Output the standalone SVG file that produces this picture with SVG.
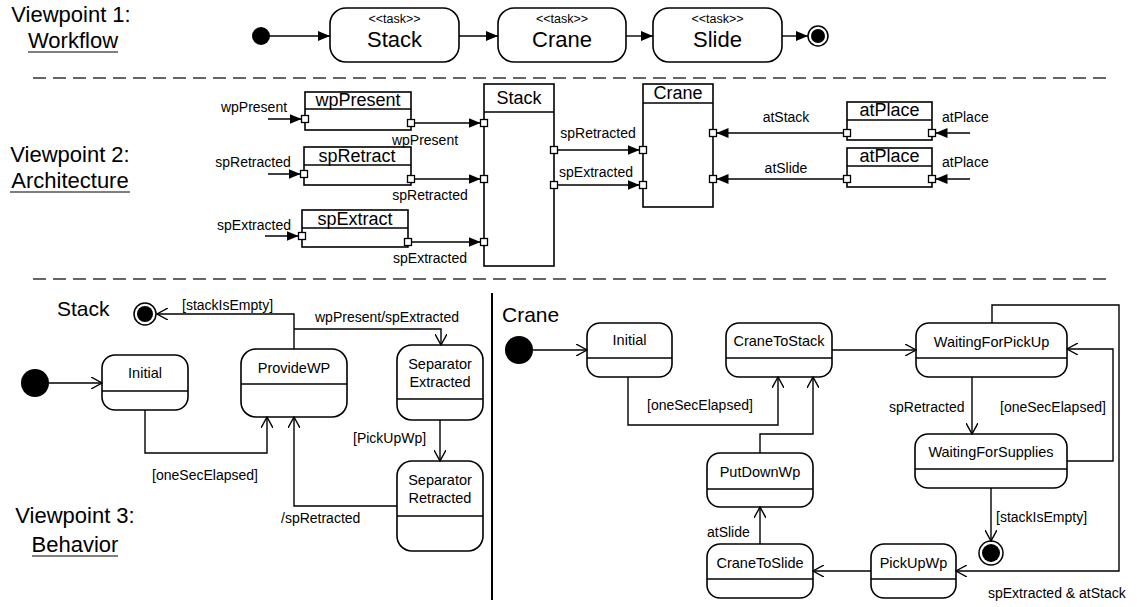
<svg xmlns="http://www.w3.org/2000/svg" width="1137" height="607" viewBox="0 0 1137 607">
<style>
text{font-family:"Liberation Sans",Arial,sans-serif;fill:#000}
.vp{font-size:22px;text-anchor:middle}
.st{font-size:14.5px;text-anchor:middle}
.lbl{font-size:14px}
.lc{font-size:14px;text-anchor:middle}
.hd{font-size:18px;text-anchor:middle}
.ster{font-size:12.5px;text-anchor:middle}
.tk{font-size:22px;text-anchor:middle}
.box{fill:#fff;stroke:#000;stroke-width:1.6}
.ln{fill:none;stroke:#000;stroke-width:1.4}
.port{fill:#fff;stroke:#000;stroke-width:1.3}
.dash{stroke:#333;stroke-width:1.5;stroke-dasharray:13 7}
.fa{fill:none;stroke:#000;stroke-width:1.4;marker-end:url(#fa)}
.oa{fill:none;stroke:#000;stroke-width:1.4;marker-end:url(#oa)}
</style>
<defs>
<marker id="fa" viewBox="0 0 12 10" refX="12" refY="5" markerWidth="12" markerHeight="10" markerUnits="userSpaceOnUse" orient="auto"><path d="M0,0 L12,5 L0,10 z" fill="#000"/></marker>
<marker id="oa" viewBox="0 0 12 12" refX="11" refY="6" markerWidth="12" markerHeight="12" markerUnits="userSpaceOnUse" orient="auto"><path d="M0,0 L11,6 L0,12" fill="none" stroke="#000" stroke-width="1.4"/></marker>
</defs>
<rect width="1137" height="607" fill="#fff"/>

<g id="viewpoint-labels">
<text class="vp" x="71" y="22">Viewpoint 1:</text>
<text class="vp" x="73" y="48">Workflow</text>
<line x1="28" y1="52" x2="118" y2="52" stroke="#000" stroke-width="1.2"/>
<text class="vp" x="70" y="162">Viewpoint 2:</text>
<text class="vp" x="70" y="188">Architecture</text>
<line x1="10" y1="192" x2="130" y2="192" stroke="#000" stroke-width="1.2"/>
<text class="vp" x="75" y="523">Viewpoint 3:</text>
<text class="vp" x="75" y="552">Behavior</text>
<line x1="32" y1="556" x2="118" y2="556" stroke="#000" stroke-width="1.2"/>
</g>

<g id="separators">
<line class="dash" x1="33" y1="78" x2="1112" y2="78"/>
<line class="dash" x1="33" y1="279" x2="1112" y2="279"/>
<line x1="492" y1="293" x2="492" y2="600" stroke="#000" stroke-width="2"/>
</g>

<!-- Viewpoint 1 -->
<g id="wf-start"><circle cx="261" cy="36" r="9" fill="#000"/></g>
<g id="wf-stack"><rect class="box" x="330" y="8" width="129" height="54" rx="16"/><text class="ster" x="394.5" y="23">&lt;&lt;task&gt;&gt;</text><text class="tk" x="394.5" y="47">Stack</text></g>
<g id="wf-crane"><rect class="box" x="498" y="8" width="128" height="54" rx="16"/><text class="ster" x="562" y="23">&lt;&lt;task&gt;&gt;</text><text class="tk" x="562" y="47">Crane</text></g>
<g id="wf-slide"><rect class="box" x="653" y="8" width="129" height="54" rx="16"/><text class="ster" x="717.5" y="23">&lt;&lt;task&gt;&gt;</text><text class="tk" x="717.5" y="47">Slide</text></g>
<g id="wf-end"><circle cx="818" cy="36" r="10" fill="#fff" stroke="#000" stroke-width="1.5"/><circle cx="818" cy="36" r="7" fill="#000"/></g>

<!-- Viewpoint 2 -->
<g id="blk-wpPresent"><rect class="box" x="305" y="92" width="106" height="38"/><line class="ln" x1="305" y1="109" x2="411" y2="109"/><text class="hd" x="358" y="106">wpPresent</text><rect class="port" x="301.5" y="115.5" width="7" height="7"/><rect class="port" x="407.5" y="119.5" width="7" height="7"/></g>
<g id="blk-spRetract"><rect class="box" x="304" y="147" width="107" height="38"/><line class="ln" x1="304" y1="165" x2="411" y2="165"/><text class="hd" x="357" y="162">spRetract</text><rect class="port" x="300.5" y="170.5" width="7" height="7"/><rect class="port" x="407.5" y="175.5" width="7" height="7"/></g>
<g id="blk-spExtract"><rect class="box" x="302" y="210" width="106" height="37"/><line class="ln" x1="302" y1="228" x2="408" y2="228"/><text class="hd" x="355" y="225">spExtract</text><rect class="port" x="298.5" y="232.5" width="7" height="7"/><rect class="port" x="404.5" y="238.5" width="7" height="7"/></g>
<g id="blk-stack"><rect class="box" x="484" y="84" width="70" height="182"/><line class="ln" x1="484" y1="112" x2="554" y2="112"/><text class="hd" x="519" y="104">Stack</text><rect class="port" x="480.5" y="119.5" width="7" height="7"/><rect class="port" x="480.5" y="175.5" width="7" height="7"/><rect class="port" x="480.5" y="238.5" width="7" height="7"/><rect class="port" x="550.5" y="146.5" width="7" height="7"/><rect class="port" x="550.5" y="181.5" width="7" height="7"/></g>
<g id="blk-crane"><rect class="box" x="643" y="84" width="70" height="123"/><line class="ln" x1="643" y1="103" x2="713" y2="103"/><text class="hd" x="678" y="99">Crane</text><rect class="port" x="639.5" y="146.5" width="7" height="7"/><rect class="port" x="639.5" y="181.5" width="7" height="7"/><rect class="port" x="709.5" y="129.5" width="7" height="7"/><rect class="port" x="709.5" y="175.5" width="7" height="7"/></g>
<g id="blk-atPlace1"><rect class="box" x="847" y="102" width="85" height="38"/><line class="ln" x1="847" y1="120" x2="932" y2="120"/><text class="hd" x="889.5" y="116">atPlace</text><rect class="port" x="843.5" y="129.5" width="7" height="7"/><rect class="port" x="928.5" y="129.5" width="7" height="7"/></g>
<g id="blk-atPlace2"><rect class="box" x="847" y="148" width="85" height="39"/><line class="ln" x1="847" y1="166" x2="932" y2="166"/><text class="hd" x="889.5" y="162">atPlace</text><rect class="port" x="843.5" y="175.5" width="7" height="7"/><rect class="port" x="928.5" y="175.5" width="7" height="7"/></g>

<!-- Viewpoint 3: Stack -->
<g id="sm-stack-title"><text x="57" y="316" style="font-size:21px">Stack</text></g>
<g id="s-final"><circle cx="145" cy="314" r="11" fill="#fff" stroke="#000" stroke-width="1.5"/><circle cx="145" cy="314" r="8" fill="#000"/></g>
<g id="s-start"><circle cx="35" cy="383" r="14" fill="#000"/></g>
<g id="s-initial"><rect class="box" x="102" y="355" width="86" height="55" rx="13"/><line class="ln" x1="102" y1="391" x2="188" y2="391"/><text class="st" x="145" y="378">Initial</text></g>
<g id="s-provide"><rect class="box" x="241" y="349" width="106" height="68" rx="15"/><line class="ln" x1="241" y1="384" x2="347" y2="384"/><text class="st" x="294" y="373">ProvideWP</text></g>
<g id="s-sepext"><rect class="box" x="397" y="345" width="86" height="75" rx="15"/><line class="ln" x1="397" y1="399" x2="483" y2="399"/><text class="st" x="440" y="369">Separator</text><text class="st" x="440" y="387">Extracted</text></g>
<g id="s-sepret"><rect class="box" x="397" y="461" width="86" height="90" rx="15"/><line class="ln" x1="397" y1="516" x2="483" y2="516"/><text class="st" x="440" y="485">Separator</text><text class="st" x="440" y="503">Retracted</text></g>

<!-- Viewpoint 3: Crane -->
<g id="sm-crane-title"><text x="502" y="322" style="font-size:21px">Crane</text></g>
<g id="c-start"><circle cx="519" cy="350" r="14" fill="#000"/></g>
<g id="c-initial"><rect class="box" x="587" y="323" width="85" height="54" rx="13"/><line class="ln" x1="587" y1="358" x2="672" y2="358"/><text class="st" x="629.5" y="345">Initial</text></g>
<g id="c-tostack"><rect class="box" x="726" y="323" width="106" height="54" rx="13"/><line class="ln" x1="726" y1="358" x2="832" y2="358"/><text class="st" x="779" y="346">CraneToStack</text></g>
<g id="c-waitpick"><rect class="box" x="916" y="323" width="151" height="54" rx="13"/><line class="ln" x1="916" y1="358" x2="1067" y2="358"/><text class="st" x="991.5" y="347">WaitingForPickUp</text></g>
<g id="c-waitsup"><rect class="box" x="915" y="434" width="152" height="54" rx="13"/><line class="ln" x1="915" y1="469" x2="1067" y2="469"/><text class="st" x="991" y="457">WaitingForSupplies</text></g>
<g id="c-final"><circle cx="991" cy="553" r="12" fill="#fff" stroke="#000" stroke-width="1.5"/><circle cx="991" cy="553" r="9" fill="#000"/></g>
<g id="c-pickup"><rect class="box" x="871" y="544" width="85" height="54" rx="13"/><line class="ln" x1="871" y1="579" x2="956" y2="579"/><text class="st" x="913.5" y="568">PickUpWp</text></g>
<g id="c-toslide"><rect class="box" x="707" y="544" width="106" height="54" rx="13"/><line class="ln" x1="707" y1="579" x2="813" y2="579"/><text class="st" x="760" y="568">CraneToSlide</text></g>
<g id="c-putdown"><rect class="box" x="707" y="453" width="106" height="54" rx="13"/><line class="ln" x1="707" y1="489" x2="813" y2="489"/><text class="st" x="760" y="477">PutDownWp</text></g>

<g id="connectors">
<line class="fa" x1="270" y1="36" x2="330" y2="36"/>
<line class="fa" x1="459" y1="36" x2="498" y2="36"/>
<line class="fa" x1="626" y1="36" x2="653" y2="36"/>
<line class="fa" x1="782" y1="36" x2="808" y2="36"/>
<line class="fa" x1="268" y1="119" x2="301.5" y2="119"/>
<line class="fa" x1="414.5" y1="123" x2="480.5" y2="123"/>
<line class="fa" x1="268" y1="174" x2="300.5" y2="174"/>
<line class="fa" x1="414.5" y1="179" x2="480.5" y2="179"/>
<line class="fa" x1="265" y1="236" x2="298.5" y2="236"/>
<line class="fa" x1="411.5" y1="242" x2="480.5" y2="242"/>
<line class="fa" x1="557.5" y1="150" x2="639.5" y2="150"/>
<line class="fa" x1="557.5" y1="185" x2="639.5" y2="185"/>
<line class="fa" x1="843.5" y1="133" x2="716.5" y2="133"/>
<line class="fa" x1="843.5" y1="179" x2="716.5" y2="179"/>
<line class="fa" x1="970" y1="133" x2="935.5" y2="133"/>
<line class="fa" x1="970" y1="179" x2="935.5" y2="179"/>
<polyline class="oa" points="294,349 294,314 157,314"/>
<polyline class="oa" points="294,329 441,329 441,345"/>
<line class="oa" x1="49" y1="383" x2="102" y2="383"/>
<polyline class="oa" points="145,410 145,453 267,453 267,417"/>
<line class="oa" x1="440" y1="420" x2="440" y2="461"/>
<polyline class="oa" points="397,506 294,506 294,417"/>
<line class="oa" x1="533" y1="350" x2="587" y2="350"/>
<polyline class="oa" points="628,377 628,425 778,425 778,377"/>
<polyline class="oa" points="760,453 760,434 813,434 813,377"/>
<line class="oa" x1="832" y1="350" x2="916" y2="350"/>
<line class="oa" x1="972" y1="377" x2="972" y2="434"/>
<polyline class="oa" points="1067,461 1113,461 1113,349 1067,349"/>
<polyline class="oa" points="992,323 992,305 1119,305 1119,571 956,571"/>
<line class="oa" x1="991" y1="488" x2="991" y2="541"/>
<line class="oa" x1="871" y1="571" x2="813" y2="571"/>
<line class="oa" x1="760" y1="544" x2="760" y2="507"/>
</g>

<g id="connector-labels">
<text class="lc" x="254" y="112">wpPresent</text>
<text class="lc" x="425" y="145">wpPresent</text>
<text class="lc" x="253" y="167">spRetracted</text>
<text class="lc" x="430" y="200">spRetracted</text>
<text class="lc" x="254" y="230">spExtracted</text>
<text class="lc" x="430" y="263">spExtracted</text>
<text class="lc" x="598" y="138">spRetracted</text>
<text class="lc" x="596" y="177">spExtracted</text>
<text class="lc" x="786" y="122">atStack</text>
<text class="lc" x="786" y="173">atSlide</text>
<text class="lbl" x="942" y="122">atPlace</text>
<text class="lbl" x="942" y="167">atPlace</text>
<text class="lbl" x="182" y="310">[stackIsEmpty]</text>
<text class="lbl" x="315" y="322">wpPresent/spExtracted</text>
<text class="lc" x="205" y="480">[oneSecElapsed]</text>
<text class="lbl" x="353" y="443">[PickUpWp]</text>
<text class="lbl" x="281" y="523">/spRetracted</text>
<text class="lbl" x="647" y="410">[oneSecElapsed]</text>
<text class="lbl" x="889" y="412">spRetracted</text>
<text class="lbl" x="1000" y="412">[oneSecElapsed]</text>
<text class="lbl" x="996" y="522">[stackIsEmpty]</text>
<text class="lbl" x="707" y="537">atSlide</text>
<text class="lbl" x="988" y="598">spExtracted &amp; atStack</text>
</g>
</svg>
